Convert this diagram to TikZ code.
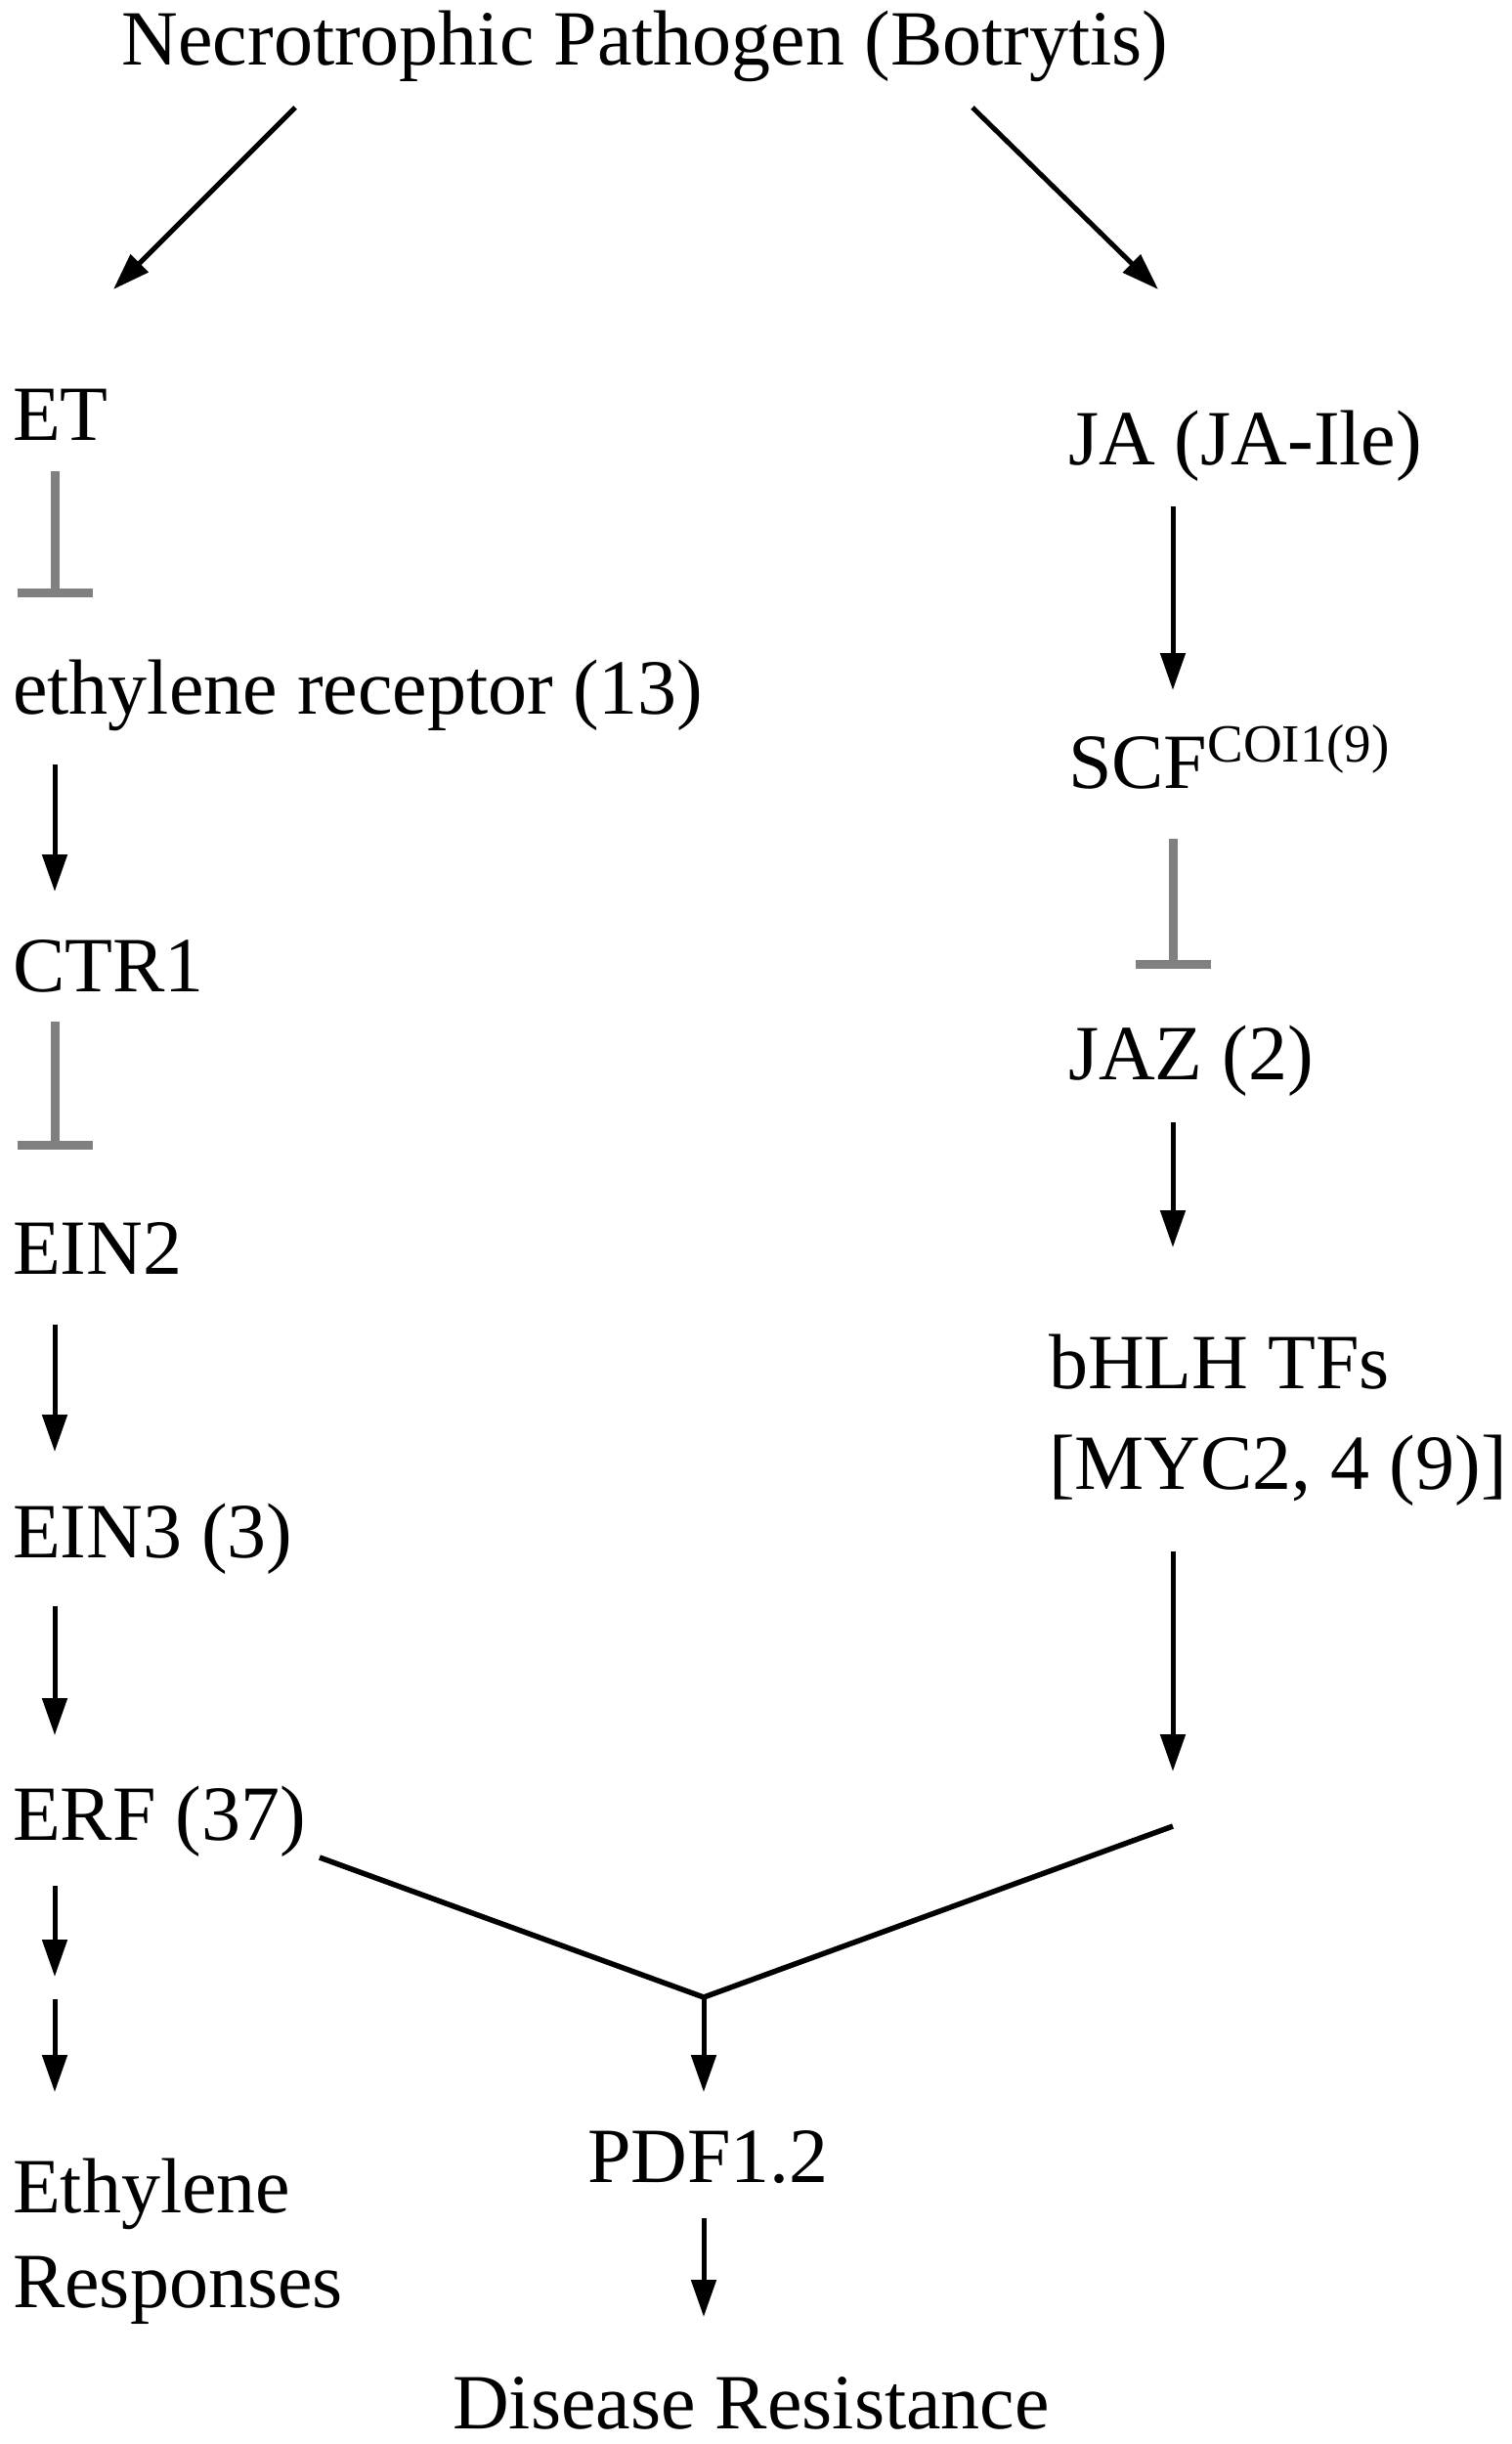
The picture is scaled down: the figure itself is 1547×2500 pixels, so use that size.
\documentclass[tikz,border=0pt]{standalone}
\usepackage{fontspec}
\setmainfont{Liberation Serif}
\usetikzlibrary{arrows.meta,calc}
\definecolor{inhgray}{HTML}{808080}
\begin{document}
\begin{tikzpicture}[x=0.5pt,y=-0.5pt,
  lbl/.style={anchor=base west,inner sep=0pt,outer sep=0pt,font=\fontsize{40pt}{48pt}\selectfont},
  act/.style={line width=2.5pt,-{Triangle[length=19pt,width=12.5pt]}},
  inh/.style={line width=4.5pt,draw=inhgray,-{Bar[width=38.5pt]}},
  joinline/.style={line width=2.75pt}]
\useasboundingbox (0,0) rectangle (1547,2500);
\coordinate (colL) at (56,0);
\coordinate (colR) at (1200,0);
% nodes
\node[lbl,anchor=base] (path) at (660,66) {Necrotrophic Pathogen (Botrytis)};
\node[lbl] (et) at (13,450) {ET};
\node[lbl] (rec) at (13,730) {ethylene receptor (13)};
\node[lbl] (ctr) at (13,1014) {CTR1};
\node[lbl] (ein2) at (13,1303) {EIN2};
\node[lbl] (ein3) at (13,1593) {EIN3 (3)};
\node[lbl] (erf) at (13,1882) {ERF (37)};
\node[lbl] (eth) at (13,2263) {\fontsize{40pt}{48.5pt}\selectfont\begin{tabular}[t]{@{}l@{}}Ethylene\\Responses\end{tabular}};
\node[lbl] (ja) at (1093,475) {JA (JA-Ile)};
\node[lbl] (scf) at (1093,806) {SCF\raisebox{13.5pt}{\fontsize{27.5pt}{30pt}\selectfont COI1(9)}};
\node[lbl] (jaz) at (1093,1104) {JAZ (2)};
\node[lbl] (bhlh) at (1073,1420) {\fontsize{40pt}{51.5pt}\selectfont\begin{tabular}[t]{@{}l@{}}bHLH TFs\\{[MYC2, 4 (9)]}\end{tabular}};
\node[lbl] (pdf) at (601,2232) {PDF1.2};
\node[lbl] (dis) at (463,2484) {Disease Resistance};
\coordinate (jn) at (720,2043);
\coordinate (rend) at (1200,1868);
% top arrows
\draw[act] ($(path.base)+(-358,44)$) -- ($(et.base west)+(103,-154)$);
\draw[act] ($(path.base)+(335,44)$) -- ($(ja.base west)+(92,-179)$);
% left column
\draw[inh] ($(et.base -| colL)+(0,32)$) -- ($(rec.base -| colL)+(0,-119)$);
\draw[act] ($(rec.base -| colL)+(0,52)$) -- ($(ctr.base -| colL)+(0,-102)$);
\draw[inh] ($(ctr.base -| colL)+(0,31)$) -- ($(ein2.base -| colL)+(0,-127)$);
\draw[act] ($(ein2.base -| colL)+(0,52)$) -- ($(ein3.base -| colL)+(0,-108)$);
\draw[act] ($(ein3.base -| colL)+(0,50)$) -- ($(erf.base -| colL)+(0,-107)$);
\draw[act] ($(erf.base -| colL)+(0,47)$) -- ($(eth.base -| colL)+(0,-241)$);
\draw[act] ($(erf.base -| colL)+(0,163)$) -- ($(eth.base -| colL)+(0,-123)$);
% right column
\draw[act] ($(ja.base -| colR)+(0,43)$) -- ($(scf.base -| colR)+(0,-100)$);
\draw[inh] ($(scf.base -| colR)+(0,52)$) -- ($(jaz.base -| colR)+(0,-113)$);
\draw[act] ($(jaz.base -| colR)+(0,44)$) -- ($(bhlh.base -| colR)+(0,-144)$);
\draw[act] ($(bhlh.base -| colR)+(0,167)$) -- ($(rend)+(0,-56)$);
% join
\draw[joinline] ($(erf.base east)+(14,18)$) -- (jn) -- (rend);
\draw[act] (jn) -- ($(pdf.base -| jn)+(0,-92)$);
\draw[act] ($(pdf.base -| jn)+(0,37)$) -- ($(dis.base -| jn)+(0,-114)$);
\end{tikzpicture}
\end{document}
